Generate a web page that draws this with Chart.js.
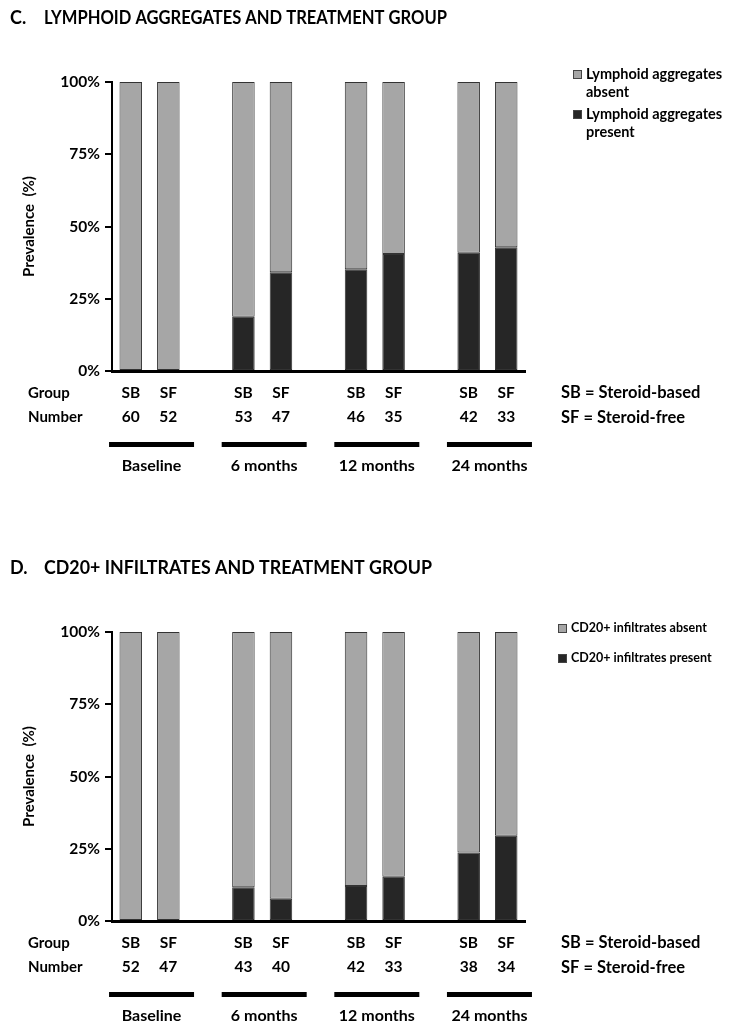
<!DOCTYPE html>
<html>
<head>
<meta charset="utf-8">
<script src="https://cdn.jsdelivr.net/npm/chart.js@4.4.0/dist/chart.umd.min.js"></script>
<style>
  html, body { margin: 0; padding: 0; background: #fff; }
  .panel { position: absolute; left: 0; width: 749px; height: 482px; }
</style>
</head>
<body>
<div class="panel" style="top:0"><canvas id="chartC" width="749" height="482"></canvas></div>
<div class="panel" style="top:550px"><canvas id="chartD" width="749" height="482"></canvas></div>
<script>
// slots: SB, SF, gap, SB, SF, gap ...
var slots = ['SB', 'SF', '', 'SB', 'SF', '', 'SB', 'SF', '', 'SB', 'SF'];
var periods = ['Baseline', '6 months', '12 months', '24 months'];
var yTicks = [0, 25, 50, 75, 100];

// C. lymphoid aggregates
var lymphPresent = [0, 0, null, 18.8, 34.2, null, 35.2, 40.5, null, 40.9, 42.8];
var lymphAbsent = [100, 100, null, 81.2, 65.8, null, 64.8, 59.5, null, 59.1, 57.2];
var lymphNumbers = [60, 52, 53, 47, 46, 35, 42, 33];

// D. CD20+ infiltrates
var cd20Present = [0, 0, null, 11.7, 7.7, null, 12.1, 15.3, null, 23.7, 29.5];
var cd20Absent = [100, 100, null, 88.3, 92.3, null, 87.9, 84.7, null, 76.3, 70.5];
var cd20Numbers = [52, 47, 43, 40, 42, 33, 38, 34];

var FONT = 'Lato, "Open Sans", sans-serif';
var GREY = '#a6a6a6';
var DARK = '#262626';

function extrasPlugin(cfg) {
  return {
    id: 'extras',
    afterDraw: function (chart) {
      var ctx = chart.ctx;
      var x = chart.scales.x;
      ctx.save();
      ctx.fillStyle = '#000';
      ctx.textBaseline = 'middle';

      // title
      ctx.font = 'bold 18px ' + FONT;
      ctx.textAlign = 'left';
      ctx.fillText(cfg.letter, 10, 18);
      ctx.fillText(cfg.title, 44, 18, cfg.titleWidth);

      // group / number rows
      ctx.font = 'bold 15px ' + FONT;
      ctx.fillText('Group', 28, 393);
      ctx.fillText('Number', 28, 417);
      ctx.font = 'bold 16.5px ' + FONT;
      ctx.fillText('SB = Steroid-based', 561, 393);
      ctx.fillText('SF = Steroid-free', 561, 418);

      ctx.font = 'bold 15.5px ' + FONT;
      ctx.textAlign = 'center';
      var n = 0;
      for (var i = 0; i < slots.length; i++) {
        if (!slots[i]) continue;
        var px = x.getPixelForValue(i);
        ctx.fillText(slots[i], px, 393);
        ctx.fillText(String(cfg.numbers[n]), px, 417);
        n++;
      }

      // period bars and labels
      ctx.font = 'bold 16px ' + FONT;
      for (var p = 0; p < periods.length; p++) {
        var a = x.getPixelForValue(p * 3);
        var b = x.getPixelForValue(p * 3 + 1);
        var mid = (a + b) / 2 + 2;
        ctx.fillRect(mid - 42.5, 442, 85, 5);
        ctx.fillText(periods[p], mid, 466);
      }

      // legend
      ctx.textAlign = 'left';
      ctx.font = 'bold ' + cfg.legendSize + 'px ' + FONT;
      cfg.legend.forEach(function (item) {
        ctx.fillStyle = item.color;
        ctx.fillRect(item.bx, item.by, 8, 8);
        ctx.strokeStyle = '#444';
        ctx.lineWidth = 1;
        ctx.strokeRect(item.bx + 0.5, item.by + 0.5, 8, 8);
        ctx.fillStyle = '#000';
        item.lines.forEach(function (line, k) {
          ctx.fillText(line, item.bx + 13, item.by + 4 + k * 18);
        });
      });
      ctx.restore();
    }
  };
}

function edge(c) {
  return c.raw ? 1 : 0;
}

function makeChart(id, present, absent, cfg) {
  return new Chart(document.getElementById(id), {
    type: 'bar',
    data: {
      labels: slots,
      datasets: [
        { label: cfg.presentLabel, data: present, backgroundColor: DARK,
          borderColor: '#333', borderWidth: edge, borderSkipped: false },
        { label: cfg.absentLabel, data: absent, backgroundColor: GREY,
          borderColor: '#333', borderWidth: edge, borderSkipped: false }
      ]
    },
    options: {
      responsive: false,
      animation: false,
      layout: { padding: { left: 0, right: 224, top: 82, bottom: 103 } },
      datasets: { bar: { barPercentage: 0.6, categoryPercentage: 1 } },
      plugins: { legend: { display: false }, tooltip: { enabled: false } },
      scales: {
        x: {
          stacked: true,
          grid: { display: false },
          border: { display: true, color: '#000', width: 3 },
          ticks: { display: false }
        },
        y: {
          stacked: true,
          min: 0,
          max: 100,
          afterFit: function (s) { s.width = 112; },
          afterBuildTicks: function (s) {
            s.ticks = yTicks.map(function (v) { return { value: v }; });
          },
          grid: { drawOnChartArea: false, drawTicks: true, tickLength: 7,
                  color: '#000', lineWidth: 2 },
          border: { display: true, color: '#000', width: 2 },
          ticks: {
            color: '#000', padding: 5,
            font: { family: FONT, size: 15.5, weight: 'bold' },
            callback: function (v) { return v + '%'; }
          },
          title: {
            display: true, text: 'Prevalence  (%)', color: '#000',
            font: { family: FONT, size: 15, weight: 'bold' },
            padding: { top: 20, bottom: 0 }
          }
        }
      }
    },
    plugins: [extrasPlugin(cfg)]
  });
}

makeChart('chartC', lymphPresent, lymphAbsent, {
  letter: 'C.',
  title: 'LYMPHOID AGGREGATES AND TREATMENT GROUP',
  titleWidth: 403,
  numbers: lymphNumbers,
  presentLabel: 'Lymphoid aggregates present',
  absentLabel: 'Lymphoid aggregates absent',
  legendSize: 14.5,
  legend: [
    { color: GREY, bx: 573, by: 70, lines: ['Lymphoid aggregates', 'absent'] },
    { color: DARK, bx: 573, by: 110, lines: ['Lymphoid aggregates', 'present'] }
  ]
});

makeChart('chartD', cd20Present, cd20Absent, {
  letter: 'D.',
  title: 'CD20+ INFILTRATES AND TREATMENT GROUP',
  titleWidth: 388,
  numbers: cd20Numbers,
  presentLabel: 'CD20+ infiltrates present',
  absentLabel: 'CD20+ infiltrates absent',
  legendSize: 12.5,
  legend: [
    { color: GREY, bx: 558, by: 74, lines: ['CD20+ infiltrates absent'] },
    { color: DARK, bx: 558, by: 104, lines: ['CD20+ infiltrates present'] }
  ]
});
</script>
</body>
</html>
